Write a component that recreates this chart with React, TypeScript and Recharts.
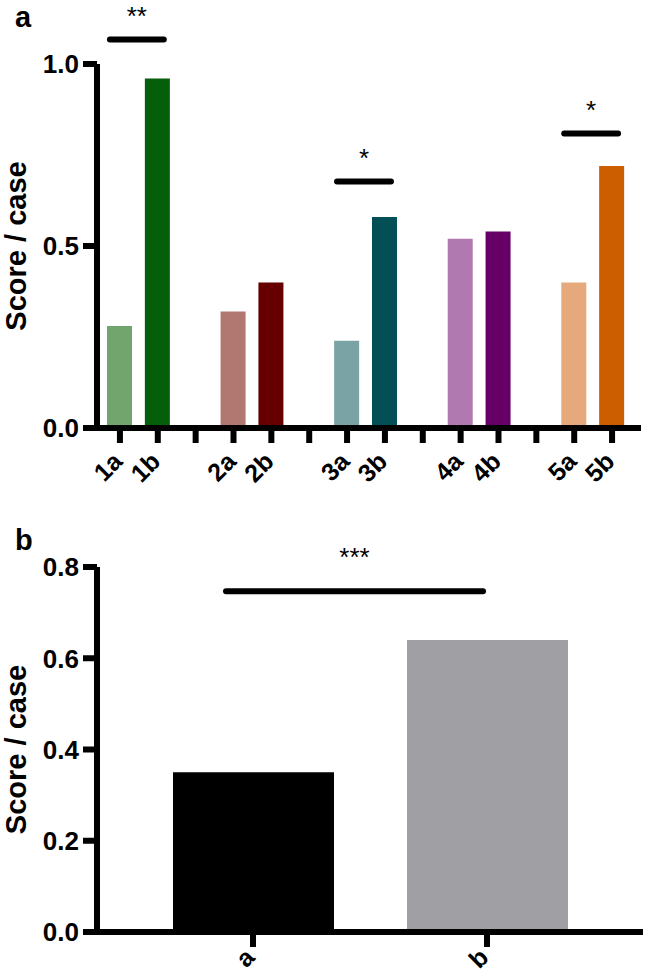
import React from "react";
import { Bar, BarChart, Cell, ReferenceLine, XAxis, YAxis } from "recharts";

// panel a: pairs with blank spacer slots between them
const categoriesA = ["1a", "1b", "g1", "2a", "2b", "g2", "3a", "3b", "g3", "4a", "4b", "g4", "5a", "5b"];
const scoresA = [0.28, 0.96, null, 0.32, 0.4, null, 0.24, 0.58, null, 0.52, 0.54, null, 0.4, 0.72];
const colorsA = ["#72a56d", "#045e0a", "#fff", "#b07870", "#660000", "#fff", "#7aa3a5", "#024f55", "#fff", "#b07ab0", "#660066", "#fff", "#e6a97c", "#cc5e00"];
const ticksA = [0, 0.5, 1.0];
const sigA = [
  { from: "1a", to: "1b", y: 1.067, label: "**" },
  { from: "3a", to: "3b", y: 0.677, label: "*" },
  { from: "5a", to: "5b", y: 0.809, label: "*" },
];

// panel b
const categoriesB = ["a", "b"];
const scoresB = [0.35, 0.64];
const colorsB = ["#000000", "#a0a0a4"];
const ticksB = [0, 0.2, 0.4, 0.6, 0.8];
const sigB = [{ from: "a", to: "b", y: 0.747, label: "***" }];

const dataA = categoriesA.map((name, i) => ({ name, score: scoresA[i] }));
const dataB = categoriesB.map((name, i) => ({ name, score: scoresB[i] }));

const FONT = "'Liberation Sans', Arial, sans-serif";
const LW = 6; // axis / tick stroke
const X_TICK = 15;
const Y_TICK = 14;

// x tick: thick tick mark + label rotated 45deg (gap slots keep only the mark)
const XTick = (props: any) => {
  const { x, y, payload, dx = 4, dy = 20 } = props;
  const v = String(payload.value);
  const ax = x + dx;
  const ay = y + dy;
  return (
    <g>
      <rect x={x - LW / 2} y={y - X_TICK} width={LW} height={X_TICK} fill="#000" />
      {!v.startsWith("g") && (
        <text
          x={ax}
          y={ay}
          transform={`rotate(-45, ${ax}, ${ay})`}
          textAnchor="end"
          fill="#000"
          fontSize={25}
          fontWeight={700}
          fontFamily={FONT}
        >
          {v}
        </text>
      )}
    </g>
  );
};

const YTick = (props: any) => {
  const { x, y, payload } = props;
  return (
    <g>
      <rect x={x} y={y - LW / 2} width={Y_TICK} height={LW} fill="#000" />
      <text
        x={x - 4}
        y={y}
        dy="0.36em"
        textAnchor="end"
        fill="#000"
        fontSize={26}
        fontWeight={700}
        fontFamily={FONT}
      >
        {Number(payload.value).toFixed(1)}
      </text>
    </g>
  );
};

// y axis line + rotated title + panel letter
const YAxisDeco = (props: any) => {
  const { viewBox, letter, letterY } = props;
  const ax = viewBox.x + viewBox.width;
  const cy = viewBox.y + viewBox.height / 2;
  return (
    <g fontFamily={FONT} fontWeight={700} fill="#000">
      <rect x={ax - LW / 2} y={viewBox.y} width={LW} height={viewBox.height + LW / 2} fill="#000" />
      <text x={15} y={letterY} fontSize={29}>
        {letter}
      </text>
      <text x={26} y={cy} fontSize={29} textAnchor="middle" transform={`rotate(-90, 26, ${cy})`}>
        Score / case
      </text>
    </g>
  );
};

const XAxisDeco = (props: any) => {
  const { viewBox } = props;
  return (
    <rect
      x={viewBox.x - LW / 2}
      y={viewBox.y - LW / 2}
      width={viewBox.width + LW / 2}
      height={LW}
      fill="#000"
    />
  );
};

const sigShape = (label: string, left: number, right: number, textGap: number) => (p: any) => {
  const x1 = p.x1 + left;
  const x2 = p.x2 + right;
  return (
    <g>
      <line x1={x1} y1={p.y1} x2={x2} y2={p.y2} stroke="#000" strokeWidth={6} strokeLinecap="round" />
      <text x={(x1 + x2) / 2} y={p.y1 - textGap} textAnchor="middle" fontSize={26} fontFamily={FONT} fill="#000">
        {label}
      </text>
    </g>
  );
};

export default function App() {
  return (
    <div style={{ position: "absolute", left: 0, top: 0, width: 645, height: 977, background: "#fff" }}>
      <BarChart width={645} height={490} data={dataA} margin={{ top: 64, right: 4, bottom: 0, left: 0 }}>
        <XAxis
          dataKey="name"
          interval={0}
          height={62}
          tickSize={X_TICK}
          tickMargin={0}
          tick={<XTick dx={4} dy={20} />}
          tickLine={false}
          axisLine={false}
          padding={{ left: 4, right: 10 }}
          label={<XAxisDeco />}
        />
        <YAxis
          width={97}
          domain={[0, 1]}
          ticks={ticksA}
          tickSize={Y_TICK}
          tickMargin={0}
          tick={<YTick />}
          tickLine={false}
          axisLine={false}
          label={<YAxisDeco letter="a" letterY={27} />}
        />
        <Bar dataKey="score" barSize={25} isAnimationActive={false}>
          {dataA.map((d, i) => (
            <Cell key={d.name} fill={colorsA[i]} />
          ))}
        </Bar>
        {sigA.map((s) => (
          <ReferenceLine
            key={s.from}
            segment={[
              { x: s.from, y: s.y },
              { x: s.to, y: s.y },
            ]}
            ifOverflow="visible"
            shape={sigShape(s.label, -10, 6, 15)}
          />
        ))}
      </BarChart>
      <div style={{ position: "absolute", left: 0, top: 490 }}>
        <BarChart width={645} height={487} data={dataB} margin={{ top: 77, right: 2, bottom: 0, left: 0 }}>
          <XAxis
            dataKey="name"
            interval={0}
            height={45}
            tickSize={X_TICK}
            tickMargin={0}
            tick={<XTick dx={3} dy={12} />}
            tickLine={false}
            axisLine={false}
            padding={{ left: 39, right: 39 }}
            label={<XAxisDeco />}
          />
          <YAxis
            width={97}
            domain={[0, 0.8]}
            ticks={ticksB}
            tickSize={Y_TICK}
            tickMargin={0}
            tick={<YTick />}
            tickLine={false}
            axisLine={false}
            label={<YAxisDeco letter="b" letterY={60} />}
          />
          <Bar dataKey="score" barSize={161} isAnimationActive={false}>
            {dataB.map((d, i) => (
              <Cell key={d.name} fill={colorsB[i]} />
            ))}
          </Bar>
          {sigB.map((s) => (
            <ReferenceLine
              key={s.from}
              segment={[
                { x: s.from, y: s.y },
                { x: s.to, y: s.y },
              ]}
              ifOverflow="visible"
              shape={sigShape(s.label, -27, -4, 25)}
            />
          ))}
        </BarChart>
      </div>
    </div>
  );
}
